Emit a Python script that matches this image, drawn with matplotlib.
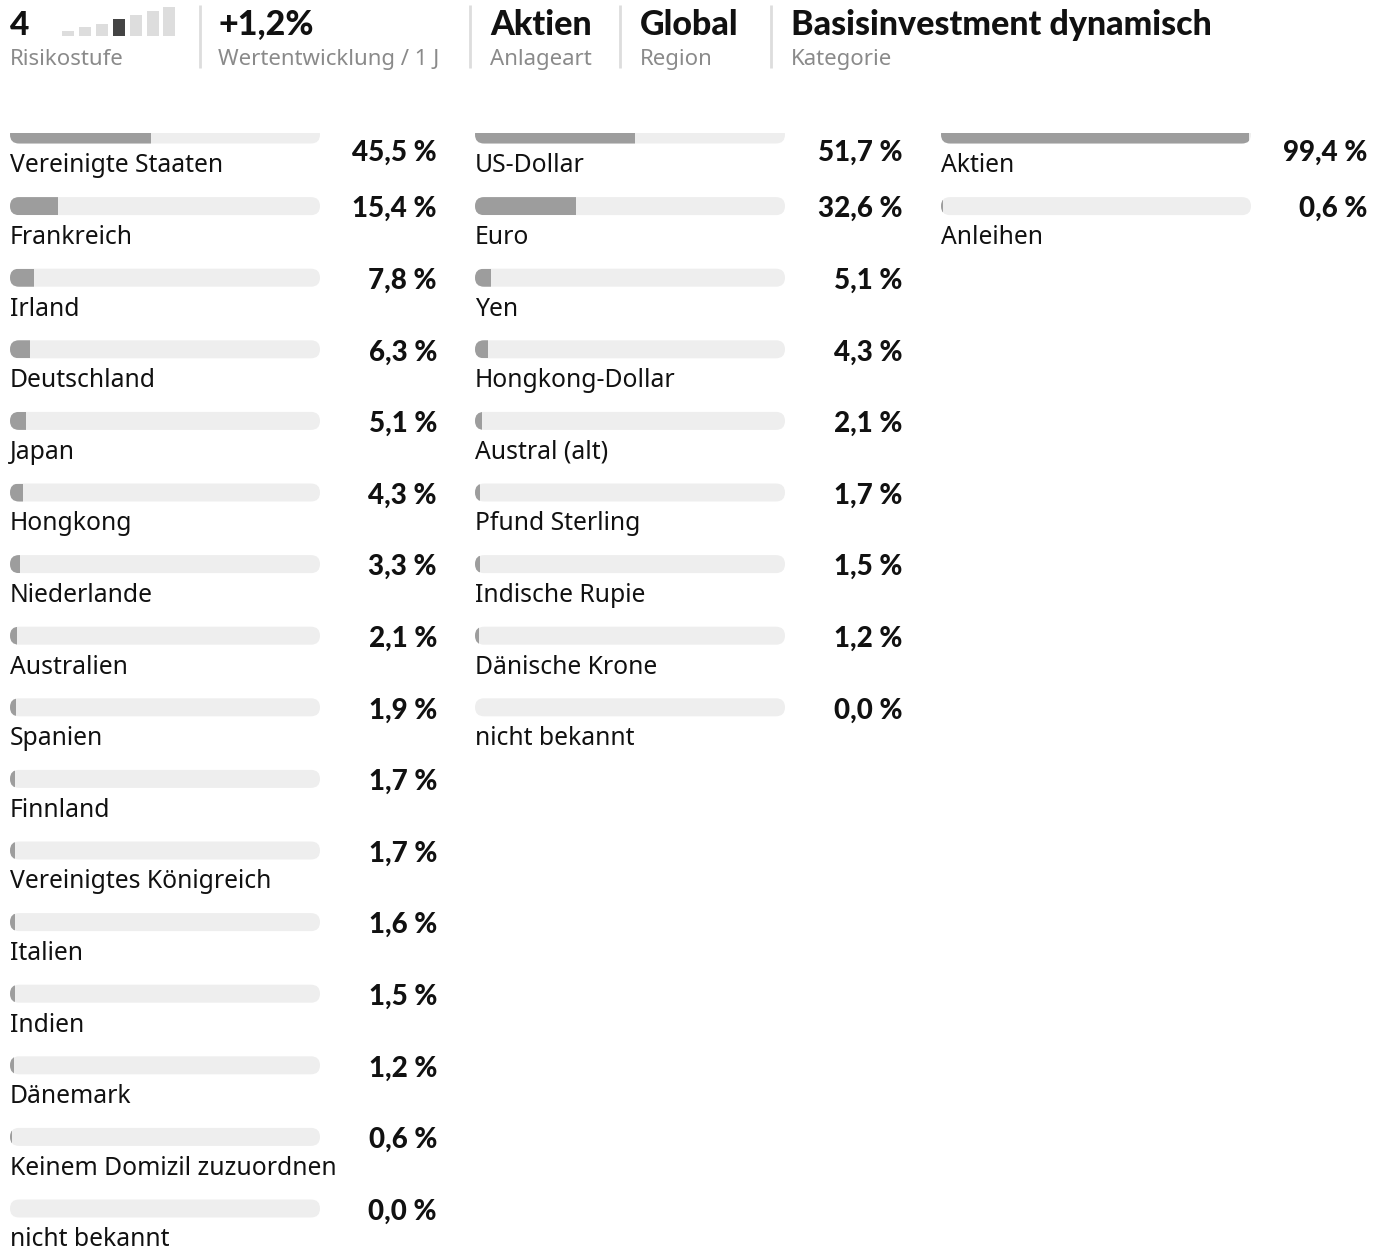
import numpy as np
import matplotlib
matplotlib.use("Agg")
import matplotlib.pyplot as plt
from matplotlib.patches import FancyBboxPatch, Rectangle

# Header facts
risk_level = 4
risk_steps = 7
header_values = ["+1,2%", "Aktien", "Global", "Basisinvestment dynamisch"]
header_labels = ["Wertentwicklung / 1 J", "Anlageart", "Region", "Kategorie"]

# Breakdown columns
countries = ["Vereinigte Staaten", "Frankreich", "Irland", "Deutschland", "Japan",
             "Hongkong", "Niederlande", "Australien", "Spanien", "Finnland",
             "Vereinigtes Königreich", "Italien", "Indien", "Dänemark",
             "Keinem Domizil zuzuordnen", "nicht bekannt"]
country_pct = [45.5, 15.4, 7.8, 6.3, 5.1, 4.3, 3.3, 2.1, 1.9, 1.7, 1.7, 1.6, 1.5, 1.2, 0.6, 0.0]

currencies = ["US-Dollar", "Euro", "Yen", "Hongkong-Dollar", "Austral (alt)",
              "Pfund Sterling", "Indische Rupie", "Dänische Krone", "nicht bekannt"]
currency_pct = [51.7, 32.6, 5.1, 4.3, 2.1, 1.7, 1.5, 1.2, 0.0]

asset_classes = ["Aktien", "Anleihen"]
asset_pct = [99.4, 0.6]

W, H = 1385, 1248
fig = plt.figure(figsize=(W / 100, H / 100), dpi=100)
ax = fig.add_axes([0, 0, 1, 1])
ax.set_xlim(0, W)
ax.set_ylim(H, 0)
ax.axis("off")

label_font = ["Noto Sans", "DejaVu Sans"]
bold_font = ["Lato", "DejaVu Sans"]
dark = "#111111"
grey_txt = "#8a8a8a"

# ---- header ----
ax.text(10, 35, str(risk_level), fontsize=24, fontweight=900, family=bold_font, color=dark)
ax.text(10, 65, "Risikostufe", fontsize=16, family=label_font, color=grey_txt)
step_x = 62 + 16.9 * np.arange(risk_steps)
step_h = [5, 9, 12, 17, 21, 25, 29]
for i in range(risk_steps):
    col = "#444444" if i == risk_level - 1 else "#dddddd"
    ax.add_patch(Rectangle((step_x[i], 36 - step_h[i]), 12, step_h[i], color=col, lw=0))

head_x = [218, 490, 640, 791]
sep_x = [200, 470, 620, 771]
for sx in sep_x:
    ax.plot([sx, sx], [5, 68], color="#dddddd", lw=2, solid_capstyle="butt")
for hx, v, l in zip(head_x, header_values, header_labels):
    ax.text(hx, 35, v, fontsize=24.5, fontweight=900, family=bold_font, color=dark)
    ax.text(hx, 65, l, fontsize=16, family=label_font, color=grey_txt)

# ---- bar columns ----
bar_w = 310
bar_h = 18
row_gap = 71.6
first_c = 134.5


def draw_column(x0, value_right, names, pcts):
    for i, (n, p) in enumerate(zip(names, pcts)):
        cy = first_c + i * row_gap
        track = FancyBboxPatch((x0, cy - bar_h / 2), bar_w, bar_h,
                               boxstyle="round,pad=0,rounding_size=9",
                               fc="#eeeeee", ec="none")
        ax.add_patch(track)
        if p > 0:
            fill = Rectangle((x0, cy - bar_h / 2), bar_w * p / 100, bar_h,
                             fc="#9d9d9d", ec="none")
            ax.add_patch(fill)
            fill.set_clip_path(track)
        ax.text(x0, cy + 38, n, fontsize=17.8, family=label_font, color=dark)
        # first row sits lower because its bar is cut at the top
        vy = cy + 26 if i == 0 else cy + 11
        ax.text(value_right, vy, f"{p:.1f} %".replace(".", ","),
                fontsize=20, fontweight=900, family=bold_font,
                color=dark, ha="right", zorder=6)


draw_column(10, 437, countries, country_pct)
draw_column(475, 902, currencies, currency_pct)
draw_column(941, 1367, asset_classes, asset_pct)

# top of first row is cut off in the original view
ax.add_patch(Rectangle((0, 80), W, 53, fc="white", ec="none", zorder=5))

fig.savefig("out.png", dpi=100, facecolor="white")
